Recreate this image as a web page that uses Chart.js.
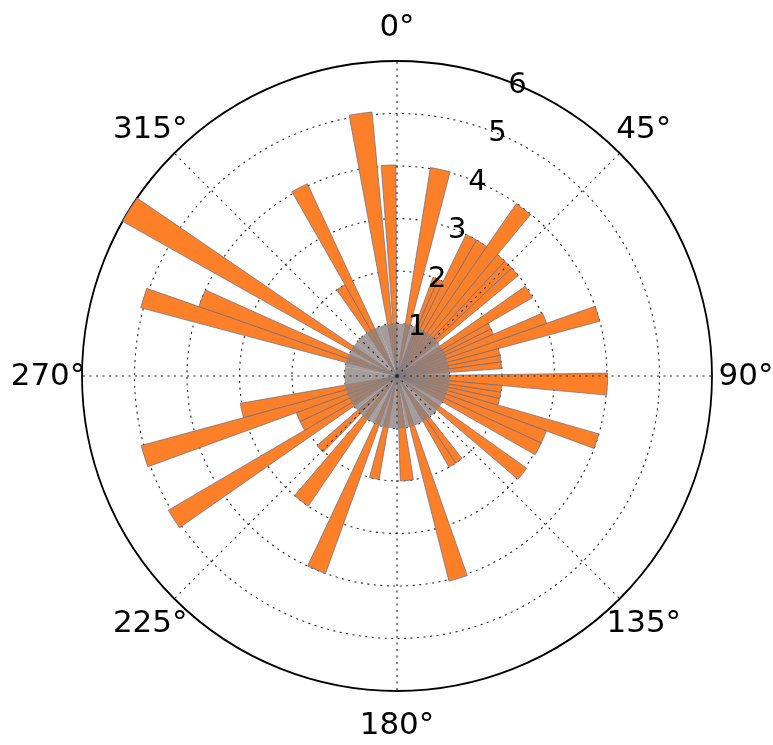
<!DOCTYPE html>
<html><head><meta charset="utf-8">
<script src="https://cdn.jsdelivr.net/npm/chart.js@4/dist/chart.umd.min.js"></script>
<style>html,body{margin:0;padding:0;background:#fff}#wrap{width:773px;height:745px;position:relative}</style>
</head><body><div id="wrap"><canvas id="c"></canvas></div>
<script>
// Bars: start angle (deg, clockwise from north), angular width (deg), radius
const barStart  = [9.1, 20.0, 23.0, 26.0, 30.4, 34.7, 39.6, 43.2, 46.8, 55.0, 60.0, 63.3, 66.6, 70.6, 74.9, 78.6, 82.3, 89.2,
                   95.2, 98.8, 102.4, 106.0, 110.2, 114.9, 125.4, 141.7, 146.0, 160.6, 171.0,
                   189.8, 199.9, 214.3, 224.0, 235.1, 239.6, 244.8, 250.0, 254.8,
                   284.9, 289.3, 299.4, 325.0, 330.3, 349.6, 355.7];
const barWidth  = [5.5, 3.0, 3.0, 4.4, 4.3, 4.9, 3.6, 3.6, 3.6, 5.0, 3.3, 3.3, 4.0, 4.3, 3.7, 3.7, 3.7, 6.0,
                   3.6, 3.6, 3.6, 4.2, 4.7, 4.8, 5.1, 4.3, 4.3, 5.2, 7.2,
                   5.4, 5.3, 6.3, 5.0, 4.5, 5.2, 5.2, 4.8, 5.3,
                   4.4, 4.9, 5.0, 5.3, 4.7, 5.0, 4.0];
const barRadius = [4.02, 2.0, 2.0, 3.0, 3.0, 3.99, 3.0, 3.0, 3.0, 2.98, 2.0, 2.0, 3.02, 4.0, 2.0, 2.0, 2.0, 4.01,
                   2.0, 2.0, 2.0, 4.0, 3.03, 3.03, 3.03, 2.0, 2.0, 4.03, 2.0,
                   2.0, 4.0, 3.0, 2.02, 5.05, 2.04, 2.04, 5.05, 3.03,
                   5.05, 4.0, 6.0, 2.0, 4.04, 5.05, 4.02];
// grey core around the centre: 10-degree sectors
const coreRadius = [1.0, 1.0, 1.0, 1.0, 1.0, 1.0, 1.0, 1.0, 1.0, 1.0, 1.0, 1.0,
                    1.0, 1.0, 1.0, 1.0, 1.0, 1.0, 1.0, 1.0, 1.0, 1.0, 1.0, 1.0,
                    1.0, 1.0, 1.0, 1.0, 1.0, 1.0, 1.0, 1.0, 1.0, 1.0, 1.0, 1.0];
const coreWidth = 10;
const angleTicks = [0, 45, 90, 135, 180, 225, 270, 315];
const angleTickLabels = ['0°', '45°', '90°', '135°', '180°', '225°', '270°', '315°'];
const radialTicks = [1, 2, 3, 4, 5, 6];
const radialMax = 6;

const ORANGE = 'rgb(253,127,40)';
const EDGE = 'rgba(95,105,135,0.85)';

function buildLayer(indices) {
  const data = [], ang = [], bg = [], bw = [];
  let cur = 0;
  for (const i of indices) {
    const s = barStart[i];
    if (s - cur > 1e-6) { data.push(0); ang.push(s - cur); bg.push('rgba(0,0,0,0)'); bw.push(0); }
    data.push(barRadius[i]); ang.push(barWidth[i]); bg.push(ORANGE); bw.push(0.8);
    cur = s + barWidth[i];
  }
  if (360 - cur > 1e-6) { data.push(0); ang.push(360 - cur); bg.push('rgba(0,0,0,0)'); bw.push(0); }
  return {
    data, backgroundColor: bg, borderWidth: bw, borderColor: EDGE,
    angle: (c) => ang[c.dataIndex]
  };
}
const even = [], odd = [];
barStart.forEach((_, i) => (i % 2 ? odd : even).push(i));

const core = {
  data: coreRadius,
  backgroundColor: 'rgba(140,130,128,0.78)',
  borderWidth: 0,
  angle: () => coreWidth
};

const decor = {
  id: 'decor',
  afterDraw(chart) {
    const s = chart.scales.r, ctx = chart.ctx;
    const R = s.drawingArea;
    ctx.save();
    ctx.strokeStyle = '#222'; ctx.lineWidth = 1.1; ctx.setLineDash([2, 4.5]);
    angleTicks.forEach(a => {
      const p = s.getPointPosition(0, R, a * Math.PI / 180);
      ctx.beginPath(); ctx.moveTo(s.xCenter, s.yCenter); ctx.lineTo(p.x, p.y); ctx.stroke();
    });
    ctx.setLineDash([]);
    ctx.fillStyle = '#000';
    ctx.font = '31px "DejaVu Sans"';
    ctx.textAlign = 'center'; ctx.textBaseline = 'middle';
    angleTicks.forEach((a, i) => {
      const p = s.getPointPosition(0, R + 34, a * Math.PI / 180);
      ctx.fillText(angleTickLabels[i], p.x, p.y + 1);
    });
    ctx.font = '29px "DejaVu Sans"';
    radialTicks.forEach(v => {
      const p = s.getPointPosition(0, s.getDistanceFromCenterForValue(v), 22.5 * Math.PI / 180);
      ctx.fillText(String(v), p.x, p.y);
    });
    ctx.restore();
  }
};

new Chart(document.getElementById('c'), {
  type: 'polarArea',
  data: { datasets: [core, buildLayer(even), buildLayer(odd)] },
  options: {
    responsive: true, maintainAspectRatio: false, animation: false,
    layout: { padding: { left: 82, right: 61, top: 61, bottom: 54 } },
    plugins: { legend: { display: false }, tooltip: { enabled: false } },
    scales: {
      r: {
        z: 1, min: 0, max: radialMax, startAngle: 0,
        ticks: { display: false, stepSize: 1 },
        angleLines: { display: false },
        pointLabels: { display: false },
        grid: {
          circular: true,
          color: (c) => c.tick && c.tick.value === radialMax ? '#000' : '#222',
          lineWidth: (c) => c.tick && c.tick.value === radialMax ? 1.8 : 1.1
        },
        border: { dash: (c) => c.tick && c.tick.value === radialMax ? [] : [2, 4.5] }
      }
    }
  },
  plugins: [decor]
});
</script></body></html>
